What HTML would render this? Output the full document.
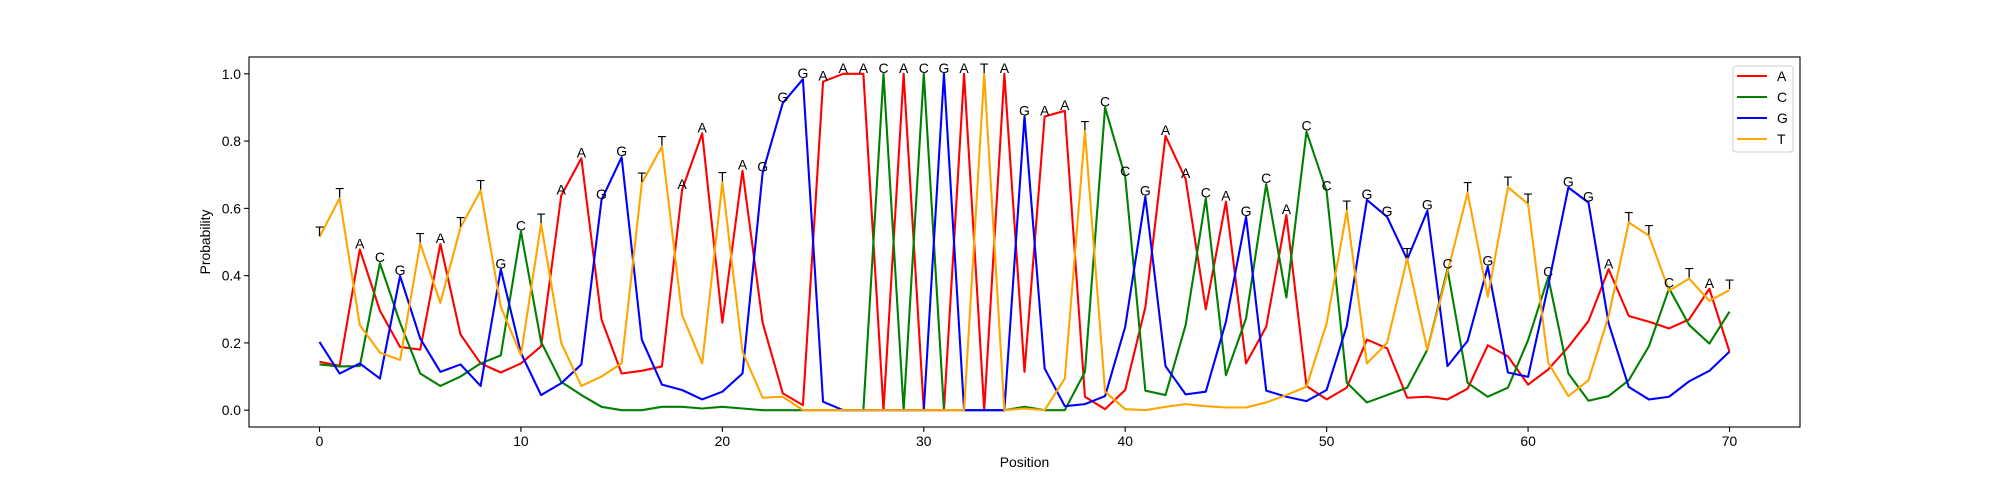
<!DOCTYPE html>
<html><head><meta charset="utf-8"><style>
html,body{margin:0;padding:0;background:#fff;}
svg{display:block;font-family:"Liberation Sans","DejaVu Sans",sans-serif;}
</style></head><body>
<svg id="chart" width="2000" height="480" viewBox="0 0 2000 480" xmlns="http://www.w3.org/2000/svg">
<rect x="0" y="0" width="2000" height="480" fill="#fff"/>
<g id="plot"></g>
</svg>
<script>
const positions=[];for(let i=0;i<=70;i++)positions.push(i);
const probA=[0.144,0.132,0.478,0.296,0.188,0.18,0.494,0.225,0.139,0.112,0.139,0.19,0.638,0.749,0.27,0.109,0.117,0.13,0.655,0.823,0.26,0.712,0.26,0.05,0.015,0.977,1.0,1.0,0,1.0,0,0,1.0,0,1.0,0.114,0.873,0.89,0.04,0.003,0.06,0.306,0.815,0.687,0.3,0.62,0.139,0.248,0.58,0.072,0.032,0.067,0.21,0.184,0.037,0.04,0.032,0.064,0.193,0.16,0.076,0.121,0.188,0.265,0.419,0.28,0.263,0.243,0.27,0.361,0.174];
const probC=[0.136,0.13,0.131,0.437,0.26,0.109,0.072,0.10,0.139,0.163,0.531,0.203,0.084,0.045,0.01,0,0,0.01,0.01,0.005,0.01,0.005,0,0,0,0,0,0,1.0,0,1.0,0,0,0,0,0.01,0,0,0.114,0.9,0.694,0.058,0.045,0.253,0.63,0.104,0.273,0.672,0.335,0.828,0.65,0.082,0.023,0.045,0.067,0.18,0.419,0.081,0.04,0.067,0.208,0.395,0.109,0.028,0.042,0.089,0.19,0.362,0.253,0.198,0.293];
const probG=[0.203,0.109,0.139,0.094,0.399,0.213,0.114,0.136,0.072,0.419,0.17,0.045,0.08,0.136,0.625,0.752,0.21,0.076,0.06,0.032,0.055,0.109,0.706,0.913,0.984,0.025,0,0,0,0,0,1.0,0,0,0,0.873,0.124,0.012,0.018,0.042,0.248,0.635,0.131,0.047,0.055,0.263,0.575,0.058,0.04,0.027,0.06,0.25,0.625,0.575,0.448,0.593,0.131,0.206,0.427,0.112,0.099,0.37,0.662,0.617,0.258,0.069,0.032,0.04,0.086,0.117,0.174];
const probT=[0.515,0.63,0.253,0.171,0.149,0.496,0.319,0.543,0.653,0.307,0.164,0.554,0.2,0.072,0.10,0.139,0.675,0.784,0.283,0.139,0.677,0.174,0.037,0.04,0,0,0,0,0,0,0,0,0,1.0,0,0.005,0,0.094,0.828,0.055,0.003,0,0.01,0.018,0.012,0.008,0.008,0.023,0.045,0.07,0.258,0.592,0.139,0.2,0.451,0.179,0.41,0.647,0.337,0.663,0.613,0.141,0.042,0.089,0.28,0.558,0.519,0.355,0.391,0.325,0.357];
const seriesNames=["A","C","G","T"];
const seriesColors=["red","green","blue","orange"];
const xTicks=[0,10,20,30,40,50,60,70];
const yTicks=[0.0,0.2,0.4,0.6,0.8,1.0];
const yTickLabels=["0.0","0.2","0.4","0.6","0.8","1.0"];

const NS="http://www.w3.org/2000/svg";
const L=249,R=1800,T=57,B=427;
const X0=-3.5,X1=73.5,Y0=-0.05,Y1=1.05;
function sx(v){return L+(v-X0)/(X1-X0)*(R-L);}
function sy(v){return B-(v-Y0)/(Y1-Y0)*(B-T);}
const g=document.getElementById('plot');
function mk(tag,attrs,parent){const e=document.createElementNS(NS,tag);for(const k in attrs)e.setAttribute(k,attrs[k]);(parent||g).appendChild(e);return e;}

const allSeries=[probA,probC,probG,probT];
const lines=mk('g',{});


allSeries.forEach((s,k)=>{
  const d=s.map((v,i)=>(i?'L':'M')+sx(positions[i]).toFixed(2)+' '+sy(v).toFixed(2)).join(' ');
  const p=mk('path',{d:d,fill:'none',stroke:seriesColors[k],'stroke-width':2.1,'stroke-linejoin':'round'},lines);
  
  
});
const labs=mk('g',{'font-size':'14','text-anchor':'middle',fill:'#000'});


positions.forEach((p,i)=>{
  let best=0;for(let k=1;k<4;k++)if(allSeries[k][i]>allSeries[best][i])best=k;
  const t=mk('text',{x:sx(p).toFixed(2),y:(sy(allSeries[best][i])-1).toFixed(2)},labs);
  t.textContent=seriesNames[best];
  
  
});
const frame=mk('rect',{x:L,y:T,width:R-L,height:B-T,fill:'none',stroke:'#000','stroke-width':1.1});


const xa=mk('g',{'font-size':'13.9','text-anchor':'middle'});


xTicks.forEach(v=>{
  mk('line',{x1:sx(v),x2:sx(v),y1:B,y2:B+4.9,stroke:'#000','stroke-width':1.1},xa);
  const t=mk('text',{x:sx(v),y:B+19},xa);t.textContent=v;
  
  
});
const ya=mk('g',{'font-size':'13.9','text-anchor':'end'});


yTicks.forEach((v,i)=>{
  mk('line',{x1:L-4.9,x2:L,y1:sy(v),y2:sy(v),stroke:'#000','stroke-width':1.1},ya);
  const t=mk('text',{x:L-8,y:sy(v)+5},ya);t.textContent=yTickLabels[i];
  
  
});
const xt=mk('text',{x:(L+R)/2,y:467,'font-size':'13.9','text-anchor':'middle'});
xt.textContent='Position';


const yt=mk('text',{x:0,y:0,'font-size':'13.9','text-anchor':'middle',transform:'translate(210,'+((T+B)/2)+') rotate(-90)'});
yt.textContent='Probability';


const lg=mk('g',{});


mk('rect',{x:1733,y:66,width:60,height:86,rx:3,fill:'#fff','fill-opacity':0.8,stroke:'#ccc','stroke-width':1},lg);
seriesNames.forEach((n,k)=>{
  const yy=76+k*21;
  const e=mk('g',{},lg);
  
  
  mk('line',{x1:1737,x2:1767,y1:yy,y2:yy,stroke:seriesColors[k],'stroke-width':2.1},e);
  const t=mk('text',{x:1777,y:yy+5,'font-size':'13.9'},e);t.textContent=n;
});
</script>
</body></html>
